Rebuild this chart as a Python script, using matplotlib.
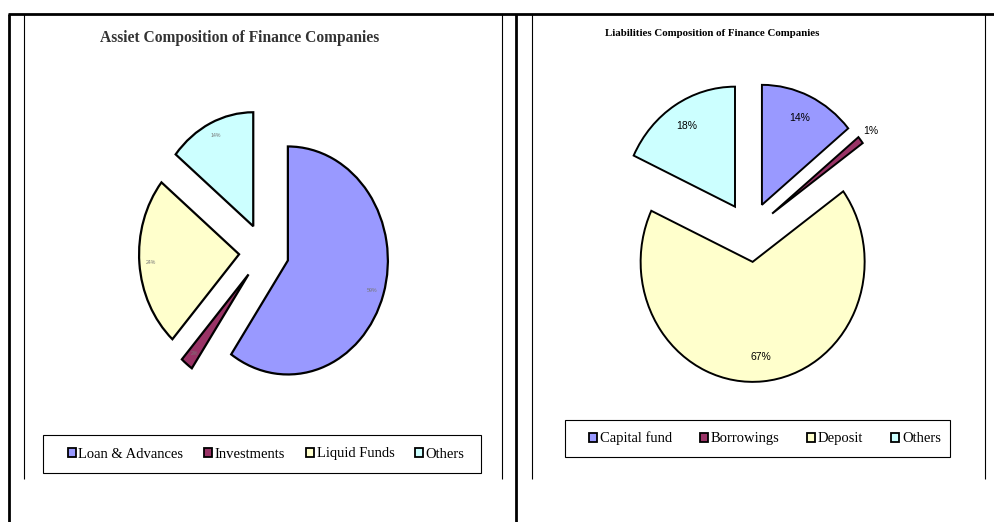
import numpy as np
import matplotlib.pyplot as plt
from matplotlib.lines import Line2D
from matplotlib.patches import Patch, Rectangle

# shares in percent
asset_labels = ["Loan & Advances", "Investments", "Liquid Funds", "Others"]
asset_share = [59, 2, 24, 14]
liab_labels = ["Capital fund", "Borrowings", "Deposit", "Others"]
liab_share = [14, 1, 67, 18]
slice_colors = ["#9999FF", "#993366", "#FFFFCC", "#CCFFFF"]

W, H = 994, 522
fig = plt.figure(figsize=(W / 100, H / 100), dpi=100)


def fx(x):
    return x / W


def fy(y):
    return 1 - y / H


def line(x0, y0, x1, y1, lw):
    fig.add_artist(Line2D([fx(x0), fx(x1)], [fy(y0), fy(y1)], color="black",
                          lw=lw, transform=fig.transFigure, solid_capstyle="butt"))


def pie_axes(cx, cy, rx, ry, size=330):
    # axes centred on pixel (cx, cy); radius 1 spans rx by ry pixels
    ax = fig.add_axes([fx(cx - size / 2), fy(cy + size / 2), size / W, size / H])
    return ax, size / (2 * rx), size / (2 * ry)


def draw_pie(ax, hx, hy, values, lw, dist, fs, tcolor, family, outside=None):
    wedges, texts = ax.pie(values, labels=[f"{v}%" for v in values],
                           colors=slice_colors, startangle=90, counterclock=False,
                           explode=[0.25] * len(values), labeldistance=dist,
                           wedgeprops=dict(edgecolor="black", linewidth=lw))
    for w, t in zip(wedges, texts):
        t.set_ha("center")
        t.set_va("center")
        t.set_fontsize(fs)
        t.set_color(tcolor)
        t.set_family(family)
    if outside is not None:
        i, d = outside
        w = wedges[i]
        th = np.deg2rad((w.theta1 + w.theta2) / 2)
        texts[i].set_position((w.center[0] + d * np.cos(th), w.center[1] + d * np.sin(th)))
    ax.set_aspect("auto")
    ax.set_xlim(-hx, hx)
    ax.set_ylim(-hy, hy)
    ax.axis("off")


# page frame
line(8, 14, 994, 14, 2.0)
line(9, 14, 9, 522, 2.0)
line(516, 14, 516, 522, 2.0)
for x in (24, 502, 532, 985):
    line(x, 14, x, 479, 0.8)

# asset chart
ax1, hx, hy = pie_axes(264, 252, 100, 114)
draw_pie(ax1, hx, hy, asset_share, 1.6, 0.88, 3.8, "#777777", "Liberation Sans")
fig.text(fx(240), fy(38), "Assiet Composition of Finance Companies", ha="center",
         va="center", family="Liberation Serif", fontsize=11.2, fontweight="bold",
         color="#333333")

# liabilities chart
ax2, hx, hy = pie_axes(750, 232, 112, 120)
draw_pie(ax2, hx, hy, liab_share, 1.4, 0.8, 7.5, "black", "Liberation Sans",
         outside=(1, 1.12))
fig.text(fx(712), fy(33), "Liabilities Composition of Finance Companies", ha="center",
         va="center", family="Liberation Serif", fontsize=7.8, fontweight="bold")


def legend_box(labels, x0, y0, x1, y1, cx, spacing):
    fig.add_artist(Rectangle((fx(x0), fy(y1)), (x1 - x0) / W, (y1 - y0) / H,
                             transform=fig.transFigure, fill=False, ec="black", lw=0.8))
    handles = [Patch(facecolor=c, edgecolor="black", linewidth=1.3) for c in slice_colors]
    fig.legend(handles, labels, loc="center", bbox_to_anchor=(fx(cx), fy((y0 + y1) / 2)),
               ncol=4, frameon=False, prop=dict(family="Liberation Serif", size=10.5),
               handlelength=0.55, handleheight=0.55, handletextpad=0.2,
               columnspacing=spacing, borderaxespad=0)


legend_box(asset_labels, 43, 435, 481, 473, 266, 1.4)
legend_box(liab_labels, 565, 420, 950, 457, 765, 1.9)

fig.savefig("out.png", dpi=100)
